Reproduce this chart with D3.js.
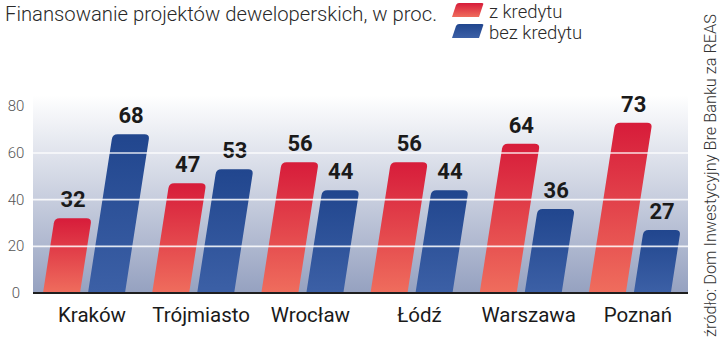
<!DOCTYPE html>
<html>
<head>
<meta charset="utf-8">
<script src="https://cdn.jsdelivr.net/npm/d3@7"></script>
<style>
  body { margin: 0; background: #fff; }
  text { font-family: Roboto, "Liberation Sans", sans-serif; }
</style>
</head>
<body>
<div id="chart"></div>
<script>
// data
var cities = ["Kraków", "Trójmiasto", "Wrocław", "Łódź", "Warszawa", "Poznań"];
var withCredit = [32, 47, 56, 56, 64, 73];
var withoutCredit = [68, 53, 44, 44, 36, 27];
var yTicks = [0, 20, 40, 60, 80];
var gridTicks = [20, 40, 60];
var seriesNames = ["z kredytu", "bez kredytu"];

var width = 720, height = 341;
var plot = {left: 33, right: 688, top: 95, bottom: 293};
var slant = 0.155;   // bars lean to the right
var barW = 37;

var svg = d3.select("#chart").append("svg")
    .attr("width", width)
    .attr("height", height);

var defs = svg.append("defs");

function vGrad(id, top, bottom) {
  var g = defs.append("linearGradient").attr("id", id)
      .attr("x1", 0).attr("y1", 0).attr("x2", 0).attr("y2", 1);
  g.append("stop").attr("offset", "0%").attr("stop-color", top);
  g.append("stop").attr("offset", "100%").attr("stop-color", bottom);
}
vGrad("bg", "#ffffff", "#95a1c0");
vGrad("red", "#d71c3a", "#ef6d5d");
vGrad("blue", "#21468e", "#3c60a6");

var x = d3.scaleBand().domain(cities).range([plot.left, plot.right]);
var y = d3.scaleLinear().domain([0, 80]).range([plot.bottom, 106.3]);

// plot background
svg.append("rect")
    .attr("x", plot.left).attr("y", plot.top)
    .attr("width", plot.right - plot.left)
    .attr("height", plot.bottom - plot.top)
    .attr("fill", "url(#bg)");

// slanted bar with rounded top corners
function barPath(x0, v) {
  var y0 = y(0), yt = y(v), h = y0 - yt, s = slant * h, r = 5;
  var len = Math.sqrt(s * s + h * h), ux = s / len, uy = h / len;
  var tl = [x0 + s, yt], tr = [x0 + s + barW, yt];
  return "M" + x0 + "," + y0 +
    "L" + (tl[0] - r * ux) + "," + (tl[1] + r * uy) +
    "Q" + tl[0] + "," + tl[1] + " " + (tl[0] + r) + "," + tl[1] +
    "L" + (tr[0] - r) + "," + tr[1] +
    "Q" + tr[0] + "," + tr[1] + " " + (tr[0] - r * ux) + "," + (tr[1] + r * uy) +
    "L" + (x0 + barW) + "," + y0 + "Z";
}

var series = [
  {name: seriesNames[0], values: withCredit, fill: "url(#red)", offset: 10},
  {name: seriesNames[1], values: withoutCredit, fill: "url(#blue)", offset: 55}
];

series.forEach(function(s) {
  var g = svg.append("g");
  g.selectAll("path")
    .data(s.values)
    .enter().append("path")
    .attr("d", function(d, i) { return barPath(x(cities[i]) + s.offset, d); })
    .attr("fill", s.fill);

  g.selectAll("text")
    .data(s.values)
    .enter().append("text")
    .attr("x", function(d, i) {
      return x(cities[i]) + s.offset + slant * (y(0) - y(d)) + barW / 2;
    })
    .attr("y", function(d) { return y(d) - 11; })
    .attr("text-anchor", "middle")
    .attr("font-size", 22)
    .attr("font-weight", 700)
    .attr("fill", "#1a1a1a")
    .text(function(d) { return d; });
});

// white grid lines drawn over the bars
svg.selectAll("line.grid")
  .data(gridTicks)
  .enter().append("line")
  .attr("class", "grid")
  .attr("x1", plot.left).attr("x2", plot.right)
  .attr("y1", function(d) { return y(d); })
  .attr("y2", function(d) { return y(d); })
  .attr("stroke", "#ffffff")
  .attr("stroke-opacity", 0.85)
  .attr("stroke-width", 1.6);

// baseline
svg.append("line")
  .attr("x1", plot.left).attr("x2", plot.right)
  .attr("y1", y(0)).attr("y2", y(0))
  .attr("stroke", "#1e1e1e")
  .attr("stroke-width", 2);

// y tick labels
svg.selectAll("text.ytick")
  .data(yTicks)
  .enter().append("text")
  .attr("class", "ytick")
  .attr("x", 16)
  .attr("y", function(d) { return y(d) + 5; })
  .attr("text-anchor", "middle")
  .attr("font-size", 15)
  .attr("font-weight", 300)
  .attr("fill", "#555")
  .text(function(d) { return d; });

// category labels
svg.selectAll("text.cat")
  .data(cities)
  .enter().append("text")
  .attr("class", "cat")
  .attr("x", function(d) { return x(d) + 59; })
  .attr("y", 322)
  .attr("text-anchor", "middle")
  .attr("font-size", 20.5)
  .attr("fill", "#1a1a1a")
  .text(function(d) { return d; });

// title
svg.append("text")
  .attr("x", 5).attr("y", 21)
  .attr("font-size", 21)
  .attr("font-weight", 300)
  .attr("fill", "#2a2a2a")
  .attr("textLength", 432)
  .attr("lengthAdjust", "spacingAndGlyphs")
  .text("Finansowanie projektów deweloperskich, w proc.");

// legend
var legendFills = ["url(#red)", "url(#blue)"];
var legend = svg.selectAll("g.legend")
  .data(seriesNames)
  .enter().append("g")
  .attr("class", "legend")
  .attr("transform", function(d, i) { return "translate(452," + (3 + i * 21) + ")"; });

legend.append("path")
  .attr("d", "M0,14 L4,2 Q5,0 7,0 L30,0 Q32,0 31,2 L27,14 Z")
  .attr("fill", function(d, i) { return legendFills[i]; });

legend.append("text")
  .attr("x", 37).attr("y", 15)
  .attr("font-size", 18.5)
  .attr("font-weight", 300)
  .attr("fill", "#2a2a2a")
  .text(function(d) { return d; });

// source, rotated
svg.append("text")
  .attr("transform", "translate(716,337) rotate(-90)")
  .attr("font-size", 16)
  .attr("font-weight", 300)
  .attr("fill", "#333")
  .attr("textLength", 323)
  .attr("lengthAdjust", "spacingAndGlyphs")
  .text("źródło: Dom Inwestycyjny Bre Banku za REAS");
</script>
</body>
</html>
